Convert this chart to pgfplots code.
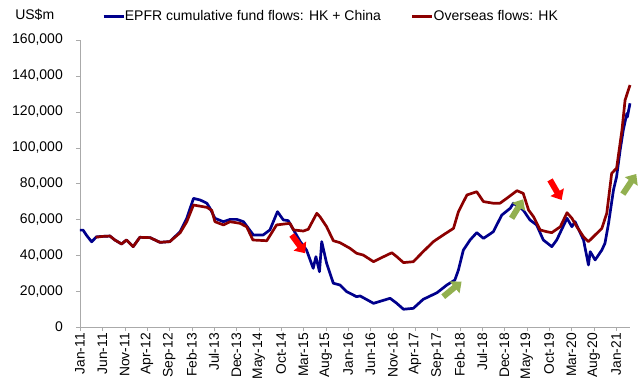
\documentclass[border=0pt]{standalone}
\usepackage{fontspec}
\setmainfont{Liberation Sans}
\usepackage{pgfplots}
\pgfplotsset{compat=1.18}
\usetikzlibrary{arrows.meta}
\definecolor{cblue}{RGB}{0,0,140}
\definecolor{cred}{RGB}{140,0,0}
\definecolor{agreen}{RGB}{146,176,80}
\definecolor{axgray}{RGB}{170,170,170}
\pgfplotstableread{
m v
0 54000
0.7 54000
1.5 51000
2.6 47500
3.7 50300
5 50500
6.7 50700
7.8 48500
9.3 46300
10.4 48500
11.9 44800
13.4 50000
15.7 49800
17.9 47200
20.1 47600
22.4 53100
23.9 60600
25.4 71700
26.9 70800
28.4 69000
29.1 66200
30.2 60600
32.1 58700
33.6 60000
35.1 60000
36.6 58700
38.8 51300
41.0 51300
42.5 54100
44.2 64300
45.5 59700
46.6 59300
47.8 54100
49.3 47600
50.7 42900
52.2 32700
52.8 39200
53.6 30800
54.1 47600
55.2 35500
56.7 24400
58.2 23400
59.7 19700
61.9 16900
62.7 17300
65.7 13200
69.4 16000
70.9 13200
72.4 9900
74.6 10400
76.8 15400
79.9 19100
82.1 23400
83.9 26200
84.7 31800
85.8 42900
87.3 48500
88.8 52600
90.3 49400
92.5 53100
94.4 62400
96.3 66200
97.0 69000
99.2 65200
100.7 59700
102.2 56900
103.7 48500
105.6 44800
106.7 48500
109.0 60600
110.1 55900
110.8 58700
112.7 48500
113.8 34600
114.2 42000
115.3 37400
116.8 42900
117.5 46700
118.3 57800
119.4 76400
120.1 83800
120.9 98700
121.6 109800
122.4 119100
122.5 117000
123.1 124700
}\epfr
\pgfplotstableread{
m v
3.5 50000
5 50500
6.7 50700
7.8 48500
9.3 46300
10.4 48500
11.9 44800
13.4 50000
15.7 49800
17.9 47200
20.1 47600
22.4 52500
23.9 58700
25.4 68000
28.4 66700
29.5 65000
30.2 58700
32.1 56900
33.6 58700
35.8 57800
37.3 55900
38.7 48500
41.8 48100
44.0 56900
47.0 57800
47.8 54100
50.0 53500
51.1 54500
53.0 63400
53.7 61500
55.2 55900
56.7 48100
58.2 47000
60.4 43900
61.9 41100
63.4 40100
65.7 36400
67.2 38300
69.8 41400
70.9 39200
72.4 35900
74.6 36400
76.8 42000
79.1 47600
81.3 51300
83.6 55000
84.7 64300
86.6 73600
88.8 75400
90.3 69900
92.5 69000
94.0 69000
95.5 71700
97.8 76000
99.2 74500
100.4 65200
101.5 61500
103.0 54100
104.5 53100
105.6 52600
107.5 55900
109.0 63700
110.1 60600
111.2 55900
112.7 50300
113.8 47600
114.9 50300
116.8 55000
117.9 63400
119.0 85700
120.1 88500
121.3 109800
122.0 126500
123.1 134900
}\overseas
\begin{document}
\begin{tikzpicture}
\useasboundingbox (-80pt,-55pt) rectangle (560pt,327pt);
\begin{axis}[
  scale only axis,
  width=550pt, height=287pt,
  at={(0pt,0pt)}, anchor=south west,
  xmin=0, xmax=123.1,
  ymin=0, ymax=160000,
  axis lines=left,
  axis line style={-, draw=axgray},
  tick align=outside,
  major tick length=4pt,
  tick style={axgray},
  xtick={0,5,...,120},
  xticklabels={Jan-11,Jun-11,Nov-11,Apr-12,Sep-12,Feb-13,Jul-13,Dec-13,May-14,Oct-14,Mar-15,Aug-15,Jan-16,Jun-16,Nov-16,Apr-17,Sep-17,Feb-18,Jul-18,Dec-18,May-19,Oct-19,Mar-20,Aug-20,Jan-21},
  x tick label style={rotate=90, anchor=east, font=\fontsize{13.8}{14}\selectfont, inner sep=0pt},
  xticklabel shift=2pt,
  ytick={0,20000,...,160000},
  scaled y ticks=false,
  y tick label style={font=\fontsize{14}{15}\selectfont, inner sep=0pt, xshift=-13pt, /pgf/number format/.cd, fixed, 1000 sep={,}, assume math mode=true},
  clip=false,
  legend columns=2,
  legend style={at={(axis description cs:0.04,1.082)}, anchor=west, draw=none, fill=none,
    font=\fontsize{14}{15}\selectfont, inner sep=0pt,
    nodes={inner sep=0pt},
    /tikz/every even column/.append style={column sep=30pt}},
  legend image code/.code={\draw[#1, line width=2.7pt] (0pt,0pt) -- (20pt,0pt);},
]
\addplot[cblue, line width=2.7pt, line join=round] table[x=m, y=v] {\epfr};
\addlegendentry{EPFR cumulative fund flows: HK + China}
\addplot[cred, line width=2.7pt, line join=round] table[x=m, y=v] {\overseas};
\addlegendentry{Overseas flows: HK}
\node[anchor=west, font=\fontsize{14}{15}\selectfont, inner sep=0pt] at (axis description cs:-0.118,1.087) {US\$m};
\draw[red, line width=6pt, -{Triangle[width=15pt,length=9pt]}] (axis cs:47.4,51300) -- (axis cs:50.4,41100);
\draw[red, line width=6pt, -{Triangle[width=15pt,length=9pt]}] (axis cs:105.2,82000) -- (axis cs:107.8,70800);
\draw[agreen, line width=6pt, -{Triangle[width=15pt,length=9pt]}] (axis cs:81.3,16900) -- (axis cs:85.4,25300);
\draw[agreen, line width=6pt, -{Triangle[width=15pt,length=9pt]}] (axis cs:96.6,60600) -- (axis cs:99.2,71200);
\draw[agreen, line width=6pt, -{Triangle[width=15pt,length=9pt]}] (axis cs:121.5,74100) -- (axis cs:124.5,85300);
\end{axis}
\end{tikzpicture}
\end{document}
